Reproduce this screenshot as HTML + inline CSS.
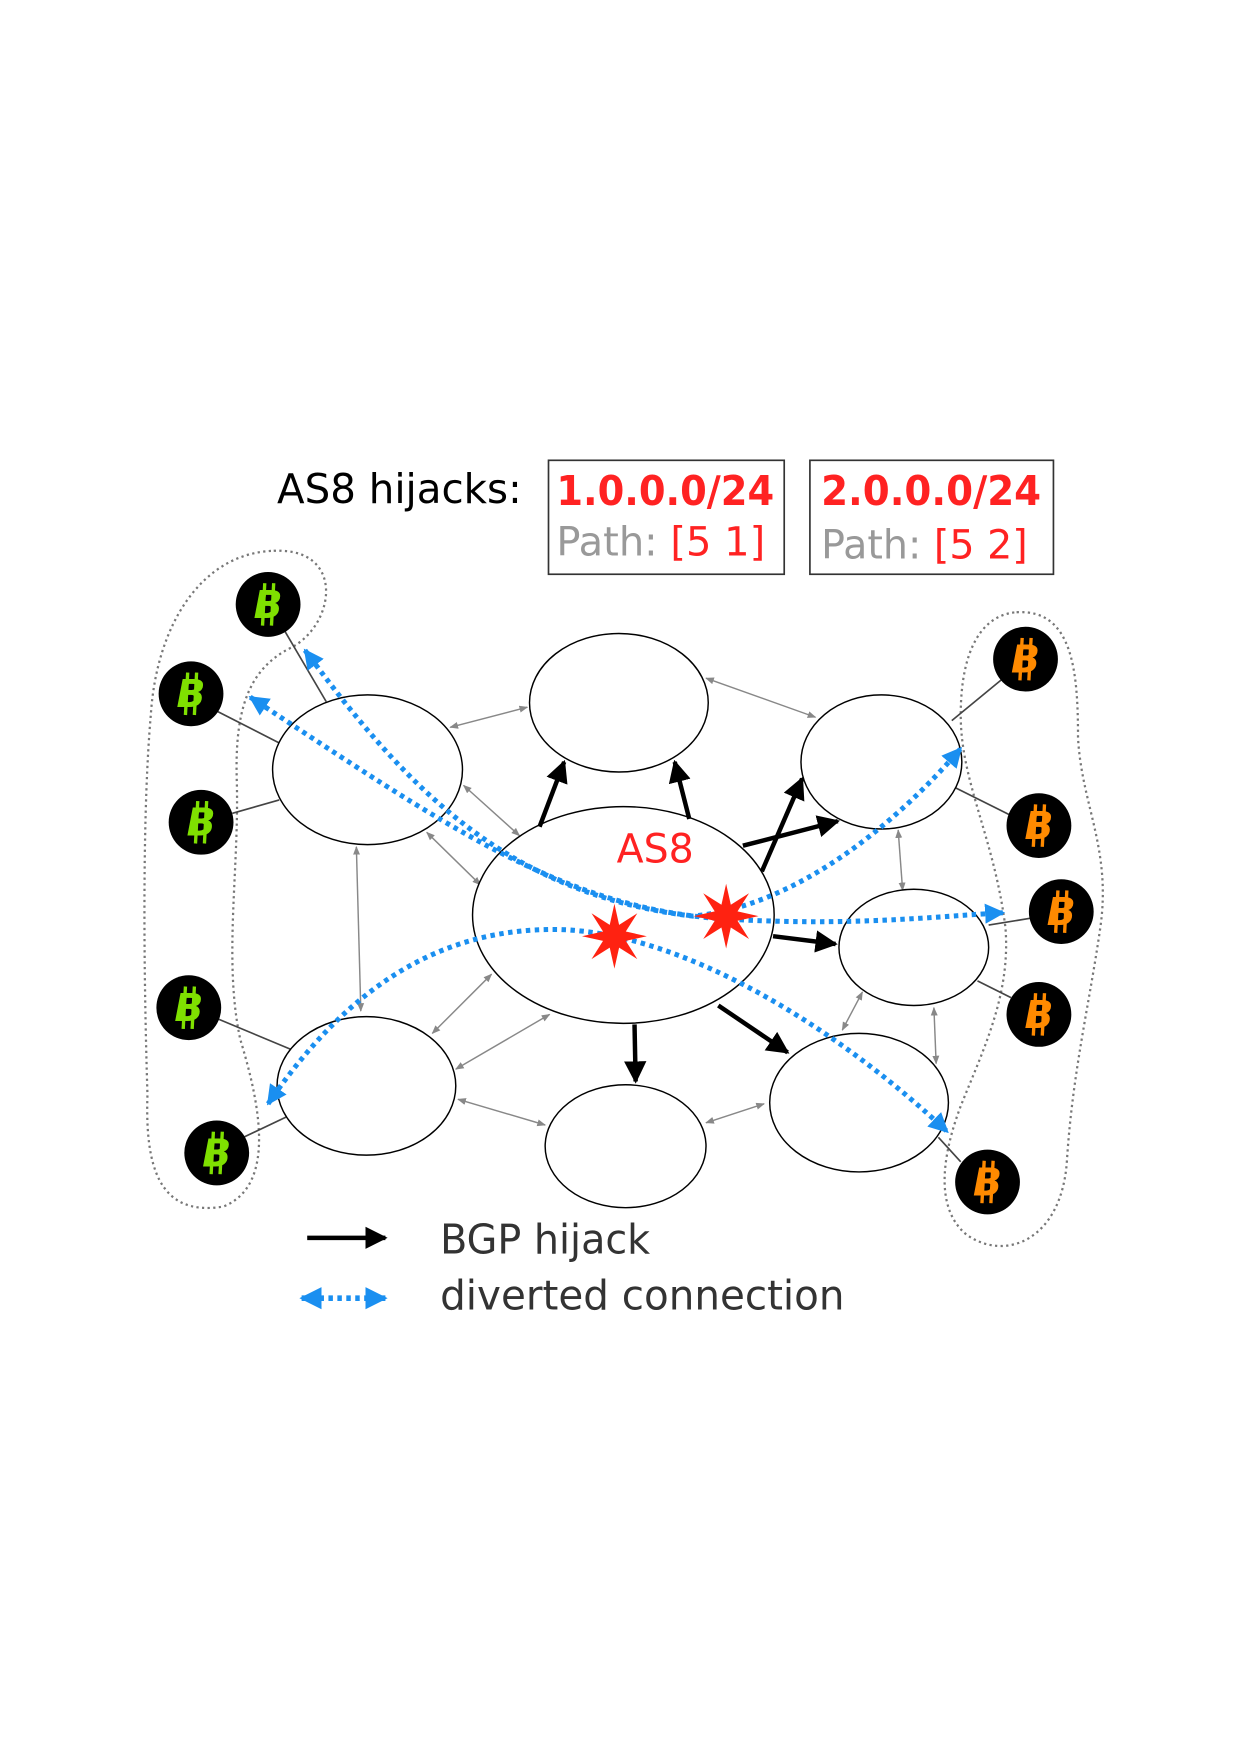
<!DOCTYPE html>
<html><head><meta charset="utf-8"><style>
html,body{margin:0;padding:0;background:#fff;}
svg{display:block;}
text{font-family:"DejaVu Sans","Liberation Sans",sans-serif;}
</style></head><body>
<svg width="1240" height="1754" viewBox="0 0 1110 1570" xmlns="http://www.w3.org/2000/svg">
<defs>
<marker id="ah" viewBox="0 0 10 10" refX="9" refY="5" markerWidth="5" markerHeight="5" orient="auto-start-reverse"><path d="M0,0L10,5L0,10z" fill="#000"/></marker>
<marker id="ag" viewBox="0 0 10 10" refX="9" refY="5" markerWidth="6" markerHeight="6" orient="auto-start-reverse"><path d="M0,1L10,5L0,9z" fill="#888"/></marker>
<marker id="ab" viewBox="0 0 10 10" refX="9" refY="5" markerWidth="4" markerHeight="4" orient="auto-start-reverse"><path d="M0,0L10,5L0,10z" fill="#1a8ff0"/></marker>
</defs>
<g id="clusters" fill="none" stroke="#777" stroke-width="2" stroke-dasharray="2,3">
<path d="M245,493 C310,490 300,560 260,580 C220,600 210,640 212,700 C214,780 200,860 215,930 C230,980 250,1060 200,1080 C140,1090 130,1040 132,980 C128,850 128,720 135,640 C140,560 180,495 245,493Z"/>
<path d="M910,548 C960,545 965,600 965,660 C968,720 995,760 985,830 C975,900 960,960 955,1040 C950,1110 900,1130 865,1105 C835,1080 845,1030 860,990 C880,940 905,890 900,830 C890,750 860,700 860,640 C860,580 880,550 910,548Z"/>
</g>
<g id="links" stroke="#444" stroke-width="1.5"></g>
<g id="gray-arrows" stroke="#888" stroke-width="1.3"></g>
<g id="nodes"></g>
<g id="black-arrows" stroke="#000" stroke-width="4"></g>
<g id="blue" fill="none" stroke="#1a8ff0" stroke-width="4.5" stroke-dasharray="4,4">
<path d="M224,624 C400,740 500,810 640,822 C760,830 840,820 898,817" marker-start="url(#ab)" marker-end="url(#ab)"/>
<path d="M273,582 C360,700 450,800 620,820 C710,812 800,740 860,670" marker-start="url(#ab)" marker-end="url(#ab)"/>
<path d="M240,988 C300,900 380,830 500,832 C620,835 760,930 848,1013" marker-start="url(#ab)" marker-end="url(#ab)"/>
</g>
<g id="stars"></g>
<text x="552" y="772" font-size="36" fill="#f22" textLength="69" lengthAdjust="spacingAndGlyphs">AS8</text>
<text x="248" y="450" font-size="37" fill="#000" textLength="219" lengthAdjust="spacingAndGlyphs">AS8 hijacks:</text>
<g>
<rect x="491" y="412" width="211" height="102" fill="#fff" stroke="#333" stroke-width="1.5"/>
<text x="498" y="452" font-size="37" font-weight="bold" fill="#f22" textLength="195" lengthAdjust="spacingAndGlyphs">1.0.0.0/24</text>
<text x="498" y="497" font-size="36" fill="#999" textLength="187" lengthAdjust="spacingAndGlyphs">Path: <tspan fill="#f22">[5 1]</tspan></text>
</g>
<g>
<rect x="725" y="412" width="218" height="102" fill="#fff" stroke="#333" stroke-width="1.5"/>
<text x="735" y="452" font-size="37" font-weight="bold" fill="#f22" textLength="197" lengthAdjust="spacingAndGlyphs">2.0.0.0/24</text>
<text x="735" y="500" font-size="36" fill="#999" textLength="185" lengthAdjust="spacingAndGlyphs">Path: <tspan fill="#f22">[5 2]</tspan></text>
</g>
<g>
<line x1="275" y1="1108" x2="345" y2="1108" stroke="#000" stroke-width="4" marker-end="url(#ah)"/>
<text x="394" y="1122" font-size="37" fill="#333" textLength="188" lengthAdjust="spacingAndGlyphs">BGP hijack</text>
<line x1="270" y1="1162" x2="345" y2="1162" stroke="#1a8ff0" stroke-width="5" stroke-dasharray="4,4" marker-start="url(#ab)" marker-end="url(#ab)"/>
<text x="394" y="1172" font-size="37" fill="#333" textLength="362" lengthAdjust="spacingAndGlyphs">diverted connection</text>
</g>
<script>
const nodeNames=['as-a','as-b','as-c','as8','as-d','as-e','as-f','as-g'];
const nodeX=[329,554,789,558,818,328,560,769];
const nodeY=[689,629,682,819,848,972,1026,987];
const nodeRX=[85,80,72,135,67,80,72,80];
const nodeRY=[67,62,60,97,52,62,55,62];
const coinX=[240,171,180,169,194,918,930,950,930,884];
const coinY=[541,621,736,902,1032,590,739,816,908,1058];
const coinColor=['#7fe000','#7fe000','#7fe000','#7fe000','#7fe000','#ff8a00','#ff8a00','#ff8a00','#ff8a00','#ff8a00'];
const linkSeg=[[255,565,292,628],[195,637,250,665],[208,728,250,716],[195,912,262,940],[218,1018,256,1000],[897,608,852,645],[905,730,855,705],[922,822,885,828],[905,893,875,878],[860,1040,840,1018]];
const grayArrows=[[403,651,472,633],[632,607,730,642],[415,703,465,748],[382,745,430,792],[319,758,323,905],[387,925,440,872],[408,957,492,908],[410,984,488,1007],[632,1005,684,988],[804,743,808,797],[754,922,772,888],[836,902,838,952]];
const blackArrows=[[483,740,505,682],[617,733,604,682],[682,780,718,697],[665,757,750,735],[692,838,748,845],[643,900,705,942],[568,917,569,968]];
const starX=[550,650],starY=[838,820];
const NS='http://www.w3.org/2000/svg';
function mk(t,p,a){const e=document.createElementNS(NS,t);for(const k in a)e.setAttribute(k,a[k]);p.appendChild(e);return e;}
const L=document.getElementById('links');
linkSeg.forEach(s=>{const e=mk('line',L,{x1:s[0],y1:s[1],x2:s[2],y2:s[3]});

});
const G=document.getElementById('gray-arrows');
grayArrows.forEach(s=>{const e=mk('line',G,{x1:s[0],y1:s[1],x2:s[2],y2:s[3],'marker-start':'url(#ag)','marker-end':'url(#ag)'});

});
const N=document.getElementById('nodes');
nodeX.forEach((x,i)=>{const e=mk('ellipse',N,{cx:x,cy:nodeY[i],rx:nodeRX[i],ry:nodeRY[i],fill:'#fff',stroke:'#000','stroke-width':1.3});

});
coinX.forEach((x,i)=>{const g=mk('g',N,{});


mk('circle',g,{cx:x,cy:coinY[i],r:29,fill:'#000'});
const c=coinColor[i];
mk('line',g,{x1:x-3,y1:coinY[i]-19,x2:x-5,y2:coinY[i]+19,stroke:c,'stroke-width':3});
mk('line',g,{x1:x+5,y1:coinY[i]-19,x2:x+3,y2:coinY[i]+19,stroke:c,'stroke-width':3});
const t=mk('text',g,{x:x,y:coinY[i]+12,'font-size':34,'font-weight':'bold','font-style':'italic','text-anchor':'middle',fill:c});t.textContent='B';});
const B=document.getElementById('black-arrows');
blackArrows.forEach(s=>{const e=mk('line',B,{x1:s[0],y1:s[1],x2:s[2],y2:s[3],'marker-end':'url(#ah)'});

});
const S=document.getElementById('stars');
starX.forEach((x,i)=>{let p=[];for(let k=0;k<16;k++){const r=k%2?11:29,a=Math.PI*k/8-Math.PI/2;p.push((x+r*Math.cos(a)).toFixed(1)+','+(starY[i]+r*Math.sin(a)).toFixed(1));}
const e=mk('polygon',S,{points:p.join(' '),fill:'#f21'});

});
</script>
</svg>
</body></html>
